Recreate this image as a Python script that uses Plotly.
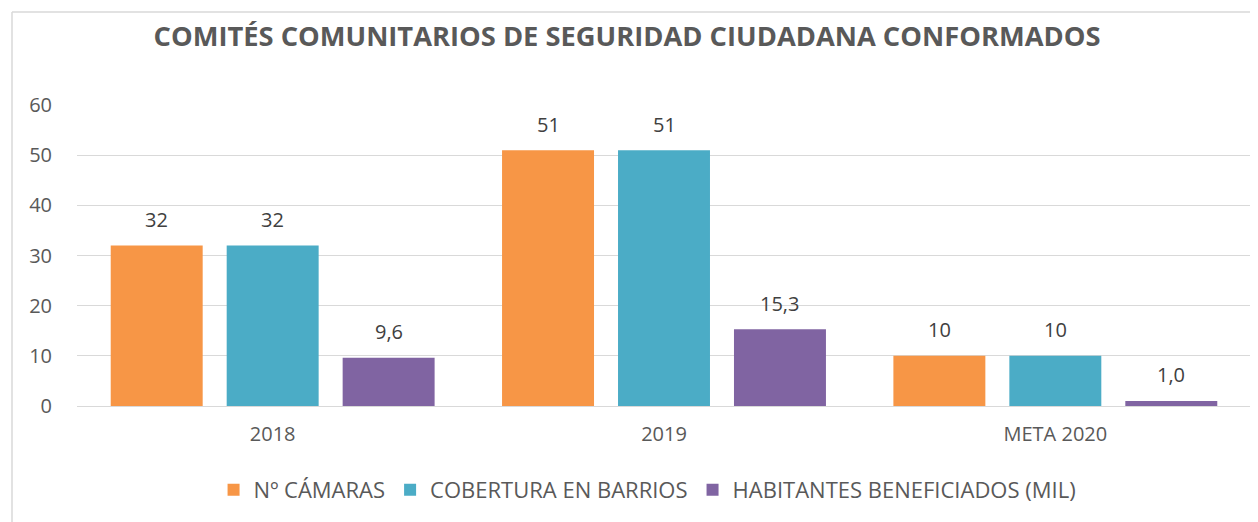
import plotly.graph_objects as go

categories = ["2018", "2019", "META 2020"]
camaras = [32, 51, 10]
cobertura = [32, 51, 10]
habitantes = [9.6, 15.3, 1.0]
series_names = ["Nº CÁMARAS", "COBERTURA EN BARRIOS", "HABITANTES BENEFICIADOS (MIL)"]
colors = ["#F79646", "#4BACC6", "#8064A2"]
title = "COMITÉS COMUNITARIOS DE SEGURIDAD CIUDADANA CONFORMADOS"
y_ticks = [0, 10, 20, 30, 40, 50, 60]

FONT = "Open Sans, sans-serif"
OFF = 8  # the page body has an 8px margin
W, H = 1258 - OFF, 522 - OFF
ML, MR, MT, MB = 77 - OFF, 7, 105 - OFF, 116
BARGAP, GROUPGAP = 0.111, 0.207

def fmt(v, dec):
    return (f"{v:.{dec}f}").replace(".", ",")

fig = go.Figure()
all_series = [camaras, cobertura, habitantes]
decs = [0, 0, 1]
for name, vals, col in zip(series_names, all_series, colors):
    fig.add_trace(go.Bar(
        x=categories, y=vals, name=name, marker=dict(color=col, line=dict(width=0)),
    ))

# data labels: placed at each bar's value, shifted to the bar's slot within the group
plot_w = W - ML - MR
plot_h = H - MT - MB
cat_w = plot_w / len(categories)
slot = cat_w * (1 - BARGAP) / len(all_series)
for i, (vals, dec) in enumerate(zip(all_series, decs)):
    for ci, v in enumerate(vals):
        fig.add_annotation(x=ci, y=v, xref="x", yref="y", text=fmt(v, dec), showarrow=False,
                           xshift=(i - 1) * slot, yshift=26, yanchor="middle",
                           font=dict(family=FONT, size=20, color="#404040"))

fig.update_layout(
    width=W, height=H,
    margin=dict(l=ML, r=MR, t=MT, b=MB, autoexpand=False),
    paper_bgcolor="white", plot_bgcolor="white",
    barmode="group", bargap=BARGAP, bargroupgap=GROUPGAP,
    title=dict(text="<b>" + title + "</b>", x=(627 - OFF) / W, xanchor="center", xref="container",
               y=1 - (36 - OFF) / H, yanchor="middle", yref="container",
               font=dict(family=FONT, size=27.3, color="#595959")),
    showlegend=True,
    legend=dict(orientation="h", x=0.486, xanchor="center", y=1 - (490 - OFF) / H, yanchor="middle",
                yref="container", xref="paper",
                font=dict(family=FONT, size=22, color="#595959"),
                itemwidth=30, tracegroupgap=0),
    xaxis=dict(type="category", range=[-0.5, len(categories) - 0.5], showgrid=False,
               showline=True, linecolor="#d9d9d9", linewidth=1,
               automargin=False, ticks="", tickfont=dict(family=FONT, size=20, color="#595959"),
               ticklabelstandoff=10),
    yaxis=dict(range=[0, 60], tickvals=y_ticks, showgrid=True, gridcolor="#d9d9d9", gridwidth=1,
               zeroline=False, showline=False, ticks="", automargin=False,
               tickfont=dict(family=FONT, size=20, color="#595959"),
               ticklabelstandoff=24),
)

# outer chart border (top and left edges visible)
bx = (12 - 77) / plot_w
by = (406 - 12) / plot_h
fig.add_shape(type="line", xref="paper", yref="paper", x0=bx, x1=1.1, y0=by, y1=by,
              line=dict(color="#d9d9d9", width=1.5))
fig.add_shape(type="line", xref="paper", yref="paper", x0=bx, x1=bx, y0=by, y1=-0.5,
              line=dict(color="#d9d9d9", width=1.5))

fig.write_html("out.html")
